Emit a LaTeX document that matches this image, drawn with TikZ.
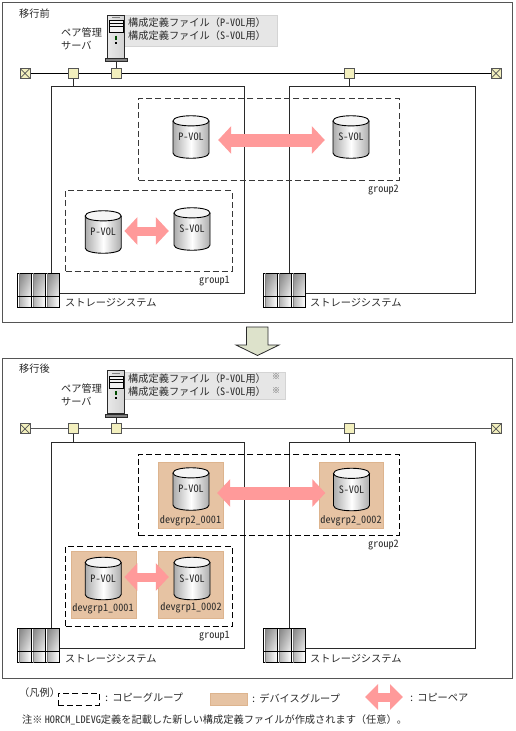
\documentclass[tikz,border=0pt]{standalone}
\usepackage{fontspec}
\setmainfont{Noto Sans CJK JP}
\newfontfamily\hankaku{Noto Sans CJK JP}[RawFeature=+hwid]
\usepackage{tikz}
\usetikzlibrary{arrows.meta, calc, positioning, shadings}
\definecolor{inkdk}{HTML}{2A2A2A}
\definecolor{linegr}{HTML}{555555}
\definecolor{pairpink}{HTML}{FF9A9A}
\definecolor{devorange}{HTML}{E6C3A3}
\definecolor{devrim}{HTML}{DDB48E}
\definecolor{hubyel}{HTML}{F3F0BE}
\definecolor{notegray}{HTML}{E6E6E6}
\definecolor{movegreen}{HTML}{DDE2CB}
\tikzset{
  txt/.style       = {font=\fontsize{10.2}{12}\selectfont, text=inkdk, inner sep=0pt},
  txtw/.style      = {txt, anchor=west},
  txte/.style      = {txt, anchor=east},
  panelbox/.style  = {draw=linegr, line width=1pt, fill=white},
  storbox/.style   = {draw=inkdk, line width=0.9pt},
  hub/.style       = {rectangle, draw=linegr, fill=hubyel, line width=1pt,
                      minimum size=10pt, inner sep=0pt},
  endhub/.style    = {hub, path picture={
                      \draw[linegr, line width=0.7pt]
                        (path picture bounding box.north west) -- (path picture bounding box.south east)
                        (path picture bounding box.north east) -- (path picture bounding box.south west);}},
  netline/.style   = {line width=1pt},
  copygrp/.style   = {line width=1pt, dash pattern=on 6pt off 3.2pt},
  devgrp/.style    = {draw=devrim, fill=devorange, line width=0.8pt},
  notebox/.style   = {fill=notegray, draw=notegray!80!black!60!white, line width=0.5pt},
  volnode/.style   = {rectangle, minimum width=36pt, minimum height=42pt, inner sep=0pt,
                      font=\hankaku\fontsize{10.2}{12}\selectfont, text=inkdk},
  pairarrow/.style = {draw=pairpink, line width=13pt,
                      {Triangle[length=13pt,width=27pt]}-{Triangle[length=13pt,width=27pt]}},
  srvbody/.style   = {rectangle, draw=inkdk, line width=0.9pt, left color=gray!18, right color=gray!35,
                      minimum width=17pt, minimum height=43pt, inner sep=0pt},
  srvbase/.style   = {rectangle, draw=inkdk, fill=gray, line width=0.5pt,
                      minimum width=22pt, minimum height=3pt, inner sep=0pt},
  storicon/.style  = {rectangle, draw=black, fill=white, line width=0.9pt,
                      minimum width=42pt, minimum height=34pt, inner sep=0pt},
}
% volume: name, centre x, centre y, label
\newcommand{\volcyl}[4]{
  \shade[left color=gray!65, right color=gray!65, middle color=white]
    (#2-18,#3-16) .. controls (#2-18,#3-23) and (#2+18,#3-23) .. (#2+18,#3-16)
    -- (#2+18,#3+16) .. controls (#2+18,#3+23) and (#2-18,#3+23) .. (#2-18,#3+16) -- cycle;
  \draw[black, fill=gray!8, line width=0.9pt]
    (#2-18,#3-16) .. controls (#2-18,#3-23) and (#2+18,#3-23) .. (#2+18,#3-16)
    .. controls (#2+18,#3-9.5) and (#2-18,#3-9.5) .. (#2-18,#3-16) -- cycle;
  \draw[black, line width=0.9pt]
    (#2-18,#3-16) -- (#2-18,#3+16) .. controls (#2-18,#3+23) and (#2+18,#3+23) .. (#2+18,#3+16) -- (#2+18,#3-16);
  \node[volnode] (#1) at (#2,#3) {#4};
}
% server icon: name, centre x, centre y
\newcommand{\srvicon}[3]{
  \node[srvbody] (#1) at (#2,#3) {};
  \node[srvbase, below=0pt of #1] (#1b) {};
  \draw[black, fill=gray!10, line width=0.7pt] ($(#1.center)+(-7,-16)$) rectangle ($(#1.center)+(7,-4)$);
  \draw[black, line width=1pt] ($(#1.center)+(-7,-13)$) -- ($(#1.center)+(7,-13)$);
  \draw[black, line width=0.7pt] ($(#1.center)+(-7,-10)$) -- ($(#1.center)+(7,-10)$);
  \draw[gray, line width=0.7pt] ($(#1.center)+(-4,-19)$) -- ($(#1.center)+(4,-19)$);
  \draw[black!70!green, line width=1.2pt] ($(#1.center)+(0,-1)$) -- ($(#1.center)+(0,3)$);
  \fill[black] ($(#1.center)+(-0.7,5)$) rectangle ($(#1.center)+(0.7,7)$);
}
% storage icon: name, left x, top y
\newcommand{\storicn}[3]{
  \node[storicon] (#1) at (#2+21,#3+17) {};
  \foreach \c in {0,1,2}{
    \shade[upper left=gray!95, upper right=gray!55, lower left=gray!60, lower right=gray!12]
      (#2+14*\c+2.5,#3+0.5) rectangle (#2+14*\c+14,#3+23);
    \shade[left color=gray!60, right color=white] (#2+14*\c+2.5,#3+23) rectangle (#2+14*\c+14,#3+33.5);
    \draw[black, line width=0.8pt] (#2+14*\c,#3) rectangle (#2+14*\c+14,#3+34);
    \draw[gray, line width=0.5pt] (#2+14*\c+2.5,#3) -- (#2+14*\c+2.5,#3+34);
  }
  \draw[black, line width=0.8pt] (#2,#3+23) -- (#2+42,#3+23);
}

\begin{document}
\begin{tikzpicture}[x=1pt, y=-1pt, line join=miter]
  \useasboundingbox[fill=white] (0,0) rectangle (515,731);
  % both panels
  \foreach \p/\dy/\dashc/\netc/\before in {a/0/gray!45!black/black/移行前, b/355.5/black/linegr/移行後}{
    \begin{scope}[shift={(0,\dy)}]
      \draw[panelbox] (2.5,2.5) rectangle (512,322.7);
      \node[txtw] (title\p) at (19,13.5) {\before};
      \node[txtw] (srvlaba\p) at (61,33) {ペア管理};
      \node[txtw] (srvlabb\p) at (61,46) {サーバ};
      % network
      \node[endhub] (endl\p) at (25,73.3) {};
      \node[endhub] (endr\p) at (496,73.3) {};
      \draw[netline, draw=\netc] (endl\p) -- (endr\p);
      \node[hub] (huba\p) at (73,73.3) {};
      \node[hub] (hubb\p) at (116,73.3) {};
      \node[hub] (hubc\p) at (349,73.3) {};
      % storage frames
      \node[storbox, minimum width=193pt, minimum height=206.5pt, inner sep=0pt] (frm1\p) at (147.5,190) {};
      \node[storbox, minimum width=185.5pt, minimum height=206.5pt, inner sep=0pt] (frm2\p) at (382.25,190) {};
      \draw[storbox] (huba\p) -- (huba\p |- frm1\p.north);
      \draw[storbox] (hubc\p) -- (hubc\p |- frm2\p.north);
      % groups
      \node[draw=\dashc, copygrp, minimum width=260.5pt, minimum height=81.5pt, inner sep=0pt] (grp2\p) at (268.75,139.25) {};
      \node[draw=\dashc, copygrp, minimum width=166.5pt, minimum height=80.5pt, inner sep=0pt] (grp1\p) at (148.75,231) {};
      \node[txte] (g2lab\p) at (399,190) {\hankaku group2};
      \node[txte] (g1lab\p) at (230,281) {\hankaku group1};
      % storage icons
      \storicn{icn1\p}{17}{273}
      \storicn{icn2\p}{263}{273}
      \node[txtw] (slab1\p) at (65,303) {ストレージシステム};
      \node[txtw] (slab2\p) at (310,303) {ストレージシステム};
    \end{scope}
  }
  % before
  \draw[notebox] (124,15) rectangle (277,46);
  \srvicon{srva}{116}{36.5}
  \draw[storbox] (srvab) -- (hubba);
  \node[txtw] (cfa1) at (128,23) {構成定義ファイル（{\hankaku P-VOL}用）};
  \node[txtw] (cfa2) at (128,36) {構成定義ファイル（{\hankaku S-VOL}用）};
  \volcyl{pv2a}{191}{137}{P-VOL}
  \volcyl{sv2a}{351}{137}{S-VOL}
  \volcyl{pv1a}{103.2}{232}{P-VOL}
  \volcyl{sv1a}{192}{229}{S-VOL}
  \draw[pairarrow, shorten <=9pt, shorten >=8pt] (pv2a.east |- 0,140) -- (sv2a.west |- 0,140);
  \draw[pairarrow, line width=9pt, shorten <=3pt, shorten >=5pt] (pv1a.east |- 0,231) -- (sv1a.west |- 0,231);
  % move arrow
  \draw[inkdk, fill=movegreen, line width=0.8pt]
    (246.5,327) -- (268,327) -- (268,345) -- (279,345) -- (257.5,355.5) -- (236,345) -- (246.5,345) -- cycle;
  % after
  \draw[notebox] (124,372.5) rectangle (285,399);
  \srvicon{srvb}{116}{392}
  \draw[storbox] (srvbb) -- (hubbb);
  \node[txtw] (cfb1) at (128,378.5) {構成定義ファイル（{\hankaku P-VOL}用）};
  \node[txtw] (cfb2) at (128,392) {構成定義ファイル（{\hankaku S-VOL}用）};
  \node[txtw, font=\fontsize{8}{9}\selectfont, text=gray!70!black] (asta) at (272,377) {※};
  \node[txtw, font=\fontsize{8}{9}\selectfont, text=gray!70!black] (astb) at (272,390.5) {※};
  \draw[devgrp] (158,462) rectangle (223.5,528);
  \draw[devgrp] (319,462) rectangle (383.5,528);
  \draw[devgrp] (71,551.5) rectangle (136,618);
  \draw[devgrp] (158,551.5) rectangle (223,618);
  \volcyl{pv2b}{191}{489}{P-VOL}
  \volcyl{sv2b}{351.5}{489.5}{S-VOL}
  \volcyl{pv1b}{103.2}{578.5}{P-VOL}
  \volcyl{sv1b}{192}{578.5}{S-VOL}
  \node[txt] (dl2a) at (190.5,521) {\hankaku devgrp2\_0001};
  \node[txt] (dl2b) at (351,520.5) {\hankaku devgrp2\_0002};
  \node[txt] (dl1a) at (103,609) {\hankaku devgrp1\_0001};
  \node[txt] (dl1b) at (191,607.5) {\hankaku devgrp1\_0002};
  \draw[pairarrow, shorten <=8pt, shorten >=8pt] (pv2b.east |- 0,493) -- (sv2b.west |- 0,493);
  \draw[pairarrow, line width=9pt, shorten <=3pt, shorten >=5pt] (pv1b.east |- 0,577) -- (sv1b.west |- 0,577);
  % legend
  \node[txtw] (lghead) at (19,693) {（凡例）};
  \node[draw=black, copygrp, minimum width=41pt, minimum height=12pt, inner sep=0pt] (lgdash) at (78.5,699) {};
  \node[txtw] (lgdashl) at (104,698) {{\hankaku :} コピーグループ};
  \node[devgrp, minimum width=37pt, minimum height=12pt, inner sep=0pt] (lgdev) at (228.5,699) {};
  \node[txtw] (lgdevl) at (251,698) {{\hankaku :} デバイスグループ};
  \coordinate (lgl) at (365,697);
  \coordinate (lgr) at (403,697);
  \draw[pairarrow, line width=9pt, {Triangle[length=13pt,width=25pt]}-{Triangle[length=13pt,width=25pt]}] (lgl) -- (lgr);
  \node[txtw] (lgpairl) at (409,698) {{\hankaku :} コピーペア};
  \node[txtw] (lgnote) at (22,720) {注※ {\hankaku HORCM\_LDEVG}定義を記載した新しい構成定義ファイルが作成されます（任意）。};
\end{tikzpicture}
\end{document}
